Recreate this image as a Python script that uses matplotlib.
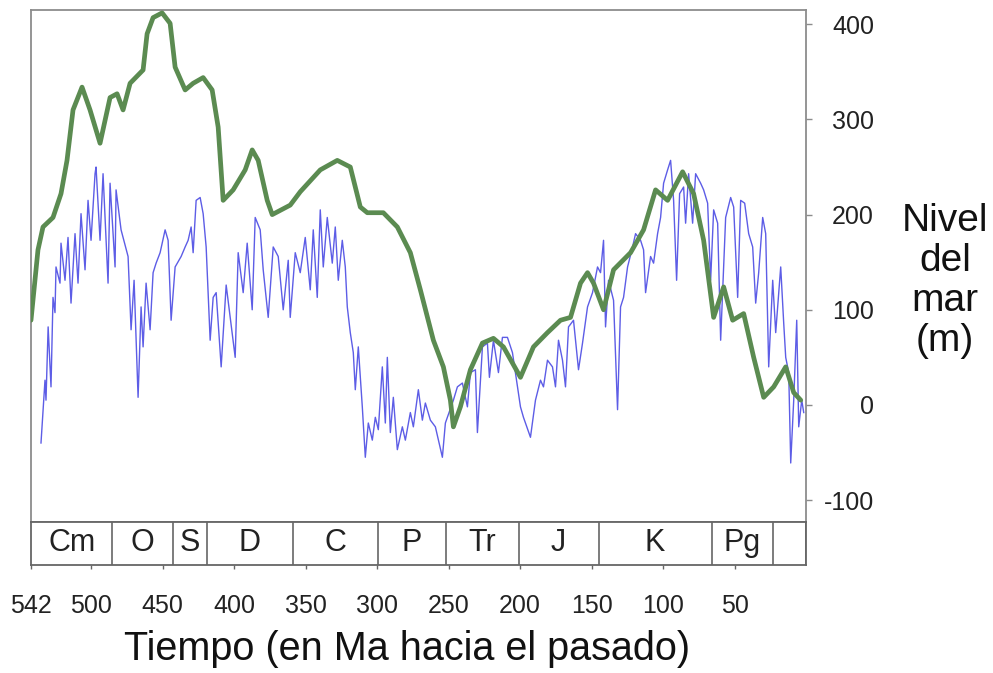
import matplotlib
matplotlib.use("Agg")
import matplotlib.pyplot as plt

plt.rcParams['font.family'] = ['Liberation Sans', 'DejaVu Sans']

# long-term sea level (green), age in Ma, level in m
green_age = [542, 537.1, 533.6, 526.6, 521, 516.8, 512.6, 506.3, 500.7, 493.7,
             486.7, 481.8, 477.6, 472.7, 463.6, 460.8, 456.6, 450.3, 444.7, 441.2,
             434.2, 428.6, 421.6, 415.3, 411.1, 407.6, 400.6, 392.2, 387.3, 383.1,
             376.8, 373.3, 360.7, 353.7, 339.7, 327.8, 318.7, 311.7, 306.8, 295.6,
             285.8, 276.7, 269.7, 260.6, 253.6, 248.7, 246.6, 241.7, 234.7, 226.3,
             218.6, 211.6, 199.7, 190.6, 180.8, 171.7, 164.7, 157.7, 152.8, 148.6,
             141.6, 134.6, 122.7, 113.6, 105.2, 96.8, 86.3, 78.6, 71.6, 64.6,
             57.6, 51.3, 43.6, 36.6, 29.6, 22.6, 14.2, 8.6, 3.7]
green_level = [89, 163, 187, 197, 222, 257, 310, 334, 310, 275,
               323, 327, 310, 338, 352, 390, 407, 412, 401, 355,
               331, 338, 344, 331, 292, 215, 226, 247, 268, 257,
               215, 200, 210, 224, 247, 257, 250, 208, 202, 202,
               187, 160, 121, 68, 40, 5, -23, -2, 37, 65,
               70, 61, 29, 61, 76, 89, 92, 128, 139, 128,
               100, 142, 160, 184, 226, 215, 245, 222, 173, 92,
               124, 89, 96, 50, 8, 19, 40, 13, 5]

# short-term sea level (blue)
blue_age = [535, 532.2, 531.5, 530, 528, 526.6, 525.2, 524.5, 521.7, 521,
            518.2, 516.1, 514, 511.2, 509.1, 507, 504.2, 502.1, 500, 497.2,
            496.5, 493.7, 491.6, 488.1, 486.7, 483.2, 482.5, 479, 474.1, 472,
            469.9, 467.1, 465, 463.6, 461.5, 458.7, 456.6, 454.5, 451.7, 448.2,
            446.1, 444, 441.2, 437, 434.2, 432.1, 430, 428.6, 426.5, 423.7,
            421.6, 419.5, 416.7, 414.6, 412.5, 409, 405.5, 399.2, 397.1, 393.6,
            390.8, 387.3, 385.2, 381.7, 379.6, 376.1, 372.6, 369.1, 365.6, 362.1,
            360.7, 357.2, 353.7, 350.2, 346.7, 344.6, 341.8, 339.7, 337.6, 334.8,
            331.3, 329.2, 327.1, 324.3, 322.2, 320.8, 318.7, 316.6, 315.2, 313.1,
            310.3, 308.2, 306.1, 303.3, 301.2, 299.1, 296.3, 294.2, 292.8, 290.7,
            288.6, 285.8, 282.3, 280.2, 276.7, 274.6, 271.1, 268.3, 266.2, 262.7,
            259.2, 254.3, 252.2, 246.6, 243.8, 240.3, 236.8, 234.7, 231.2, 229.8,
            226.3, 222.8, 221.4, 218.6, 215.1, 212.3, 208.8, 205.3, 201.8, 199.7,
            197.6, 192.7, 189.2, 185.7, 183.6, 180.8, 177.3, 175.2, 173.1, 170.3,
            168.2, 166.1, 162.6, 159.1, 156.3, 152.8, 149.3, 145.8, 143.7, 141.6,
            140.2, 138.1, 134.6, 131.8, 129.7, 127.6, 124.8, 121.3, 119.2, 115.7,
            113.6, 112.2, 108.7, 106.6, 103.8, 101.7, 99.6, 96.8, 94.7, 92.6,
            90.5, 88.4, 85.6, 84.2, 82.1, 79.3, 77.2, 73.7, 71.6, 68.8,
            66.7, 64.6, 61.8, 59.7, 56.2, 52.7, 50.6, 47.8, 45.7, 42.9,
            40.1, 37.3, 35.2, 33.1, 30.3, 28.2, 26.1, 23.3, 21.2, 17.7,
            15.6, 14.2, 12.1, 10.7, 8.6, 6.5, 5.1, 3, 1.6]
blue_level = [-40, 26, 5, 82, 19, 113, 97, 145, 128, 170,
              131, 176, 107, 180, 128, 201, 142, 215, 173, 243,
              250, 173, 243, 128, 233, 145, 226, 184, 156, 79,
              131, 8, 103, 61, 128, 79, 139, 149, 160, 184,
              173, 89, 145, 156, 166, 173, 187, 160, 215, 218,
              201, 166, 68, 113, 118, 40, 126, 50, 160, 118,
              170, 100, 197, 184, 142, 92, 166, 156, 100, 152,
              92, 160, 139, 176, 121, 184, 113, 205, 145, 197,
              149, 187, 131, 173, 145, 103, 76, 55, 16, 61,
              -2, -55, -19, -37, -13, -26, 40, -19, 50, -29,
              8, -47, -23, -37, -8, -23, 16, -16, 2, -16,
              -23, -55, -19, 5, 19, 23, -2, 34, 37, -29,
              61, 65, 29, 68, 34, 71, 71, 55, 19, -2,
              -13, -34, 5, 26, 19, 47, 40, 19, 68, 47,
              19, 82, 89, 37, 65, 103, 118, 145, 139, 173,
              82, 131, 110, -5, 103, 113, 145, 166, 180, 173,
              163, 118, 156, 149, 180, 197, 233, 247, 257, 215,
              131, 222, 229, 191, 243, 191, 243, 233, 226, 212,
              131, 205, 191, 68, 197, 218, 208, 113, 215, 212,
              180, 166, 107, 139, 197, 180, 40, 131, 76, 145,
              86, 50, 34, -61, 5, 89, -23, 5, -8]

# geologic periods
period_names = ['Cm', 'O', 'S', 'D', 'C', 'P', 'Tr', 'J', 'K', 'Pg', '']
period_start = [542, 485, 443, 419, 359, 299, 252, 201, 145, 66, 23]
period_end = [485, 443, 419, 359, 299, 252, 201, 145, 66, 23, 0]

x_ticks = [542, 500, 450, 400, 350, 300, 250, 200, 150, 100, 50]
y_ticks = [400, 300, 200, 100, 0, -100]

frame = '#8c8c8c'

fig = plt.figure(figsize=(9.93, 6.73), dpi=100)
ax = fig.add_axes([0.0312, 0.2244, 0.7805, 0.7607])
band = fig.add_axes([0.0312, 0.1605, 0.7805, 0.0639], sharex=ax)

ax.plot(blue_age, blue_level, color='#3434e0', lw=1.0, alpha=0.8, zorder=2)
ax.plot(green_age, green_level, color='#5b8b51', lw=3.4, solid_joinstyle='round',
        solid_capstyle='round', zorder=3)

ax.set_xlim(542, 0)
ax.set_ylim(-123, 415)
ax.yaxis.tick_right()
ax.set_yticks(y_ticks)
ax.set_yticklabels([str(v) for v in y_ticks], fontsize=18, color='#222222', ha='right')
ax.tick_params(axis='y', direction='out', length=4, width=1, color=frame, pad=45)
ax.tick_params(axis='x', bottom=False, labelbottom=False)
for s in ax.spines.values():
    s.set_color(frame)
    s.set_linewidth(1.3)

# period band
for a, b, name in zip(period_start, period_end, period_names):
    band.axvline(b, color='#666666', lw=1.2)
    band.text((a + b) / 2, 0.5, name, transform=band.get_xaxis_transform(),
              ha='center', va='center', fontsize=22, color='#222222')
band.set_ylim(0, 1)
band.set_yticks([])
band.set_xticks(x_ticks)
band.set_xticklabels([str(v) for v in x_ticks], fontsize=18, color='#222222')
band.tick_params(axis='x', direction='out', length=3, width=1, color='#666666', pad=18)
for s in band.spines.values():
    s.set_color('#666666')
    s.set_linewidth(1.3)

fig.text(0.4104, 0.0193, 'Tiempo (en Ma hacia el pasado)', ha='center', va='baseline',
         fontsize=28.5, color='#111111')
fig.text(0.9517, 0.5825, 'Nivel\ndel\nmar\n(m)', ha='center', va='center',
         fontsize=28, color='#111111', linespacing=1.15, multialignment='center')

fig.savefig('out.png', dpi=100)
